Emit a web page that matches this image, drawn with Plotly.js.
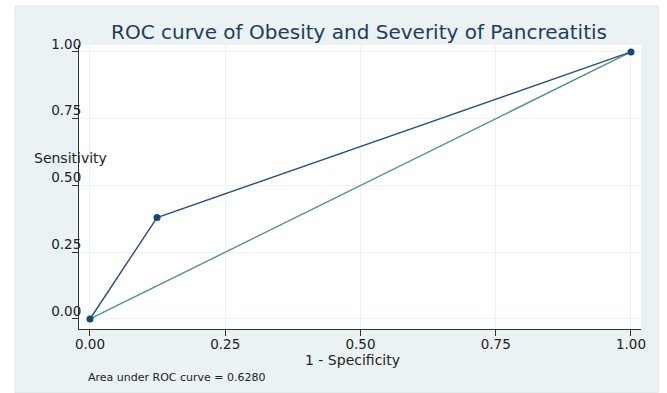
<!DOCTYPE html>
<html>
<head>
<meta charset="utf-8">
<script src="https://cdn.plot.ly/plotly-3.0.1.min.js"></script>
<style>html,body{margin:0;padding:0;background:#fff;}#chart{width:667px;height:393px;}</style>
</head>
<body>
<div id="chart"></div>
<script>
// Data
var rocFpr = [0, 0.124, 1];          // 1 - Specificity
var rocTpr = [0, 0.38, 1];           // Sensitivity
var refX = [0, 1];
var refY = [0, 1];
var tickVals = [0, 0.25, 0.5, 0.75, 1];
var tickText = ["0.00", "0.25", "0.50", "0.75", "1.00"];
var titleText = "ROC curve of Obesity and Severity of Pancreatitis";
var xTitle = "1 - Specificity";
var yTitle = "Sensitivity";
var aucNote = "Area under ROC curve = 0.6280";

var FONT = "DejaVu Sans, Liberation Sans, Arial, sans-serif";
var W = 667, H = 393, L = 79, R = 26, T = 45, B = 64;
var pw = W - L - R, ph = H - T - B;
function px(x){ return (x - L) / pw; }
function py(y){ return (H - B - y) / ph; }

var traces = [
  {x: refX, y: refY, type: "scatter", mode: "lines",
   line: {color: "#55927f", width: 1.4}, hoverinfo: "skip", showlegend: false},
  {x: rocFpr, y: rocTpr, type: "scatter", mode: "lines+markers",
   line: {color: "#2a4f7c", width: 1.4},
   marker: {color: "#1a476f", size: 7}, showlegend: false}
];

var axisCommon = {
  tickmode: "array", tickvals: tickVals, ticktext: tickText,
  ticks: "outside", ticklen: 6, tickcolor: "#333", tickwidth: 1,
  showline: true, linecolor: "#333", linewidth: 1,
  showgrid: true, gridcolor: "#eaf2f3", gridwidth: 1,
  zeroline: false, mirror: false,
  tickfont: {family: FONT, size: 13.5, color: "#222"}
};

var layout = {
  width: W, height: H,
  margin: {l: L, r: R, t: T, b: B, pad: 0},
  paper_bgcolor: "#eaf2f3",
  plot_bgcolor: "#ffffff",
  title: {text: titleText, font: {family: FONT, size: 20, color: "#1f3b60"},
          xref: "paper", x: px(359), xanchor: "center",
          yref: "container", y: 1 - 32 / H, yanchor: "middle"},
  xaxis: Object.assign({}, axisCommon, {range: [-0.0203, 1.0185], ticklabelstandoff: -3}),
  yaxis: Object.assign({}, axisCommon, {range: [-0.0375, 1.026],
          ticklabelstandoff: -12, ticklabelshift: -8}),
  annotations: [
    {text: yTitle, xref: "paper", yref: "paper", x: px(70), y: py(158),
     xanchor: "center", yanchor: "middle", showarrow: false,
     font: {family: FONT, size: 14, color: "#222"}},
    {text: xTitle, xref: "paper", yref: "paper", x: px(352), y: py(360),
     xanchor: "center", yanchor: "middle", showarrow: false,
     font: {family: FONT, size: 14, color: "#222"}},
    {text: aucNote, xref: "paper", yref: "paper", x: px(177), y: py(377),
     xanchor: "center", yanchor: "middle", showarrow: false,
     font: {family: FONT, size: 11, color: "#222"}}
  ],
  shapes: [
    {type: "rect", xref: "paper", yref: "paper", x0: px(-5), x1: px(15), y0: py(400), y1: py(-5),
     fillcolor: "#ffffff", line: {width: 0}},
    {type: "rect", xref: "paper", yref: "paper", x0: px(658), x1: px(672), y0: py(400), y1: py(-5),
     fillcolor: "#ffffff", line: {width: 0}},
    {type: "rect", xref: "paper", yref: "paper", x0: px(-5), x1: px(672), y0: py(6), y1: py(-5),
     fillcolor: "#ffffff", line: {width: 0}},
    {type: "rect", xref: "paper", yref: "paper", x0: px(15), x1: px(658), y0: py(393), y1: py(6),
     fillcolor: "rgba(0,0,0,0)", line: {width: 1, color: "#dde4e6"}}
  ]
};

Plotly.newPlot("chart", traces, layout, {displayModeBar: false, staticPlot: true});
</script>
</body>
</html>
